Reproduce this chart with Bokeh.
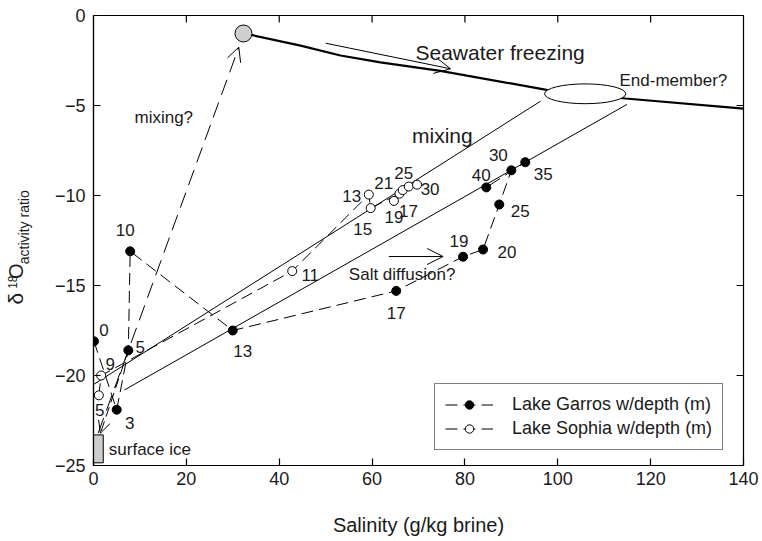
from bokeh.plotting import figure
from bokeh.layouts import row
from bokeh.models import (Range1d, Arrow, OpenHead, Label, Legend, LegendItem,
                          FixedTicker, ColumnDataSource)
from bokeh.embed import file_html
from bokeh.resources import INLINE
from bokeh.core.properties import value

FONT = "Liberation Sans"
INK = "#1a1a1a"

# Lake Garros profile: depth (m), salinity (g/kg brine), d18O
garros_depth = [0, 3, 5, 10, 13, 17, 19, 20, 25, 30, 35, 40]
garros_salinity = [0.1, 5.0, 7.5, 7.9, 30.0, 65.2, 79.6, 83.9, 87.4, 90.0, 93.0, 84.6]
garros_d18o = [-18.1, -21.9, -18.6, -13.1, -17.5, -15.3, -13.4, -13.0, -10.5, -8.6, -8.15, -9.55]

# Lake Sophia profile
sophia_depth = [5, 9, 11, 13, 15, 17, 19, 21, 25, 30]
sophia_salinity = [1.15, 1.65, 42.8, 59.3, 59.7, 65.9, 64.7, 66.6, 67.9, 69.7]
sophia_d18o = [-21.1, -20.0, -14.2, -9.95, -10.7, -9.9, -10.3, -9.7, -9.5, -9.4]

# Seawater freezing trajectory
freeze_salinity = [32.3, 34.0, 44.6, 53.2, 61.8, 74.7, 97.6, 114.6, 140.0]
freeze_d18o = [-1.0, -1.08, -1.67, -2.22, -2.6, -3.08, -4.13, -4.61, -5.17]

# seawater end-member and hypothesised brine end-member
seawater = (32.3, -1.0)
end_member = (105.9, -4.35, 17.5, 1.1)   # x, y, width, height

# mixing lines between surface ice and the brine end-member
mix_x0 = [0.0, 6.7]
mix_y0 = [-20.5, -20.8]
mix_x1 = [96.3, 114.9]
mix_y1 = [-4.76, -4.94]

# surface ice box
ice_left, ice_right, ice_bottom, ice_top = -0.5, 2.1, -24.85, -23.3

x_min, x_max = 0, 140
y_min, y_max = -25, 0
xticks = [0, 20, 40, 60, 80, 100, 120, 140]
yticks = [-25, -20, -15, -10, -5, 0]

# pixel offsets for the depth labels
garros_dx = [10, 13, 12, -5, 10, 0, -4, 24, 21, -13, 18, -5]
garros_dy = [-11, 13, -3, -21, 20, 22, -16, 2, 6, -15, 12, -12]
sophia_dx = [1, 9, 18, -17, -8, 9, 0, -19, -5, 13]
sophia_dy = [15, -12, 4, 1, 21, 17, 16, -7, -14, 4]

# layout
LEFT_W = 40           # strip holding the rotated y title
FRAME_W, FRAME_H = 650, 450
TICK = 7

p = figure(width=722, height=541, x_range=Range1d(x_min, x_max), y_range=Range1d(y_min, y_max),
           output_backend="svg", toolbar_location=None,
           min_border_left=53, min_border_right=19, min_border_top=15, min_border_bottom=76)
p.grid.visible = False
p.outline_line_color = "black"
p.outline_line_width = 1.2
p.background_fill_color = "white"
p.border_fill_color = "white"

for ax in (p.xaxis[0], p.yaxis[0]):
    ax.major_tick_in = TICK
    ax.major_tick_out = 0
    ax.minor_tick_line_color = None
    ax.axis_line_width = 1.2
    ax.major_tick_line_width = 1.2
    ax.major_label_text_font = FONT
    ax.major_label_text_font_size = "18px"
    ax.major_label_text_color = INK
p.xaxis[0].ticker = FixedTicker(ticks=xticks)
p.yaxis[0].ticker = FixedTicker(ticks=yticks)
p.xaxis[0].major_label_standoff = 6
p.yaxis[0].major_label_standoff = 8
p.xaxis[0].axis_label = "Salinity (g/kg brine)"
p.xaxis[0].axis_label_text_font = FONT
p.xaxis[0].axis_label_text_font_size = "20px"
p.xaxis[0].axis_label_text_font_style = "normal"
p.xaxis[0].axis_label_text_color = INK
p.xaxis[0].axis_label_standoff = 26

# inward tick marks along the top and right edges of the frame
tick_dy = TICK * (y_max - y_min) / FRAME_H
tick_dx = TICK * (x_max - x_min) / FRAME_W
top_x = xticks[1:-1]
right_y = yticks[1:-1]
p.segment(x0=top_x, y0=[y_max] * len(top_x), x1=top_x, y1=[y_max - tick_dy] * len(top_x),
          line_color="black", line_width=1.2)
p.segment(x0=[x_max] * len(right_y), y0=right_y, x1=[x_max - tick_dx] * len(right_y), y1=right_y,
          line_color="black", line_width=1.2)

# mixing lines
p.segment(x0=mix_x0, y0=mix_y0, x1=mix_x1, y1=mix_y1, line_color="black", line_width=1)

# seawater freezing curve, end-members and surface ice
p.line(freeze_salinity, freeze_d18o, line_color="black", line_width=2.2)
p.ellipse(x=[end_member[0]], y=[end_member[1]], width=[end_member[2]], height=[end_member[3]],
          fill_color="white", line_color="black", line_width=1)
p.scatter([seawater[0]], [seawater[1]], size=17, fill_color="#cfcfcf", line_color="black",
          line_width=1)
p.quad(left=[ice_left], right=[ice_right], bottom=[ice_bottom], top=[ice_top],
       fill_color="#cccccc", line_color="black", line_width=1)

# lake profiles
g_src = ColumnDataSource(dict(x=garros_salinity, y=garros_d18o,
                              t=[str(d) for d in garros_depth], dx=garros_dx, dy=garros_dy))
s_src = ColumnDataSource(dict(x=sophia_salinity, y=sophia_d18o,
                              t=[str(d) for d in sophia_depth], dx=sophia_dx, dy=sophia_dy))

g_line = p.line("x", "y", source=g_src, line_color="black", line_width=1, line_dash="12 6")
s_line = p.line("x", "y", source=s_src, line_color="black", line_width=1, line_dash="12 6")
g_pts = p.scatter("x", "y", source=g_src, size=9, fill_color="black", line_color="black")
s_pts = p.scatter("x", "y", source=s_src, size=9, fill_color="white", line_color="black",
                  line_width=1)

for src in (g_src, s_src):
    p.text("x", "y", text="t", source=src, x_offset="dx", y_offset="dy",
           text_font=value(FONT), text_font_size="17px", text_color=INK,
           text_align="center", text_baseline="middle")

# arrows
p.add_layout(Arrow(end=OpenHead(size=16, line_width=1), x_start=50, y_start=-1.54,
                   x_end=76.9, y_end=-2.96, line_width=1))
p.add_layout(Arrow(end=OpenHead(size=16, line_width=1), x_start=63.6, y_start=-13.39,
                   x_end=75.3, y_end=-13.39, line_width=1))
p.add_layout(Arrow(end=OpenHead(size=14, line_width=1), x_start=1.0, y_start=-23.2,
                   x_end=31.3, y_end=-1.76, line_width=1, line_dash="16 8"))
p.add_layout(Arrow(end=OpenHead(size=12, line_width=1), x_start=7.5, y_start=-18.6,
                   x_end=1.5, y_end=-23.2, line_width=1, line_dash="10 5"))

# annotations
notes = [
    ("Seawater freezing", 69.35, -2.04, "21px"),
    ("End-member?", 113.3, -3.61, "17px"),
    ("mixing", 68.6, -6.67, "21px"),
    ("mixing?", 8.83, -5.68, "17px"),
    ("Salt diffusion?", 55.0, -14.39, "17px"),
    ("surface ice", 3.3, -24.13, "17px"),
]
for txt, x, y, fs in notes:
    p.add_layout(Label(x=x, y=y, text=txt, text_font=FONT, text_font_size=fs,
                       text_color=INK, text_align="left", text_baseline="middle"))

# legend: dashed line with the marker for each lake
legend = Legend(items=[
    LegendItem(label="Lake Garros w/depth (m)", renderers=[g_line, g_pts]),
    LegendItem(label="Lake Sophia w/depth (m)", renderers=[s_line, s_pts]),
], location=(341, 15))
legend.label_text_font = FONT
legend.label_text_font_size = "18px"
legend.label_text_color = INK
legend.glyph_width = 48
legend.glyph_height = 21
legend.label_height = 21
legend.spacing = 3
legend.padding = 10
legend.margin = 0
legend.label_standoff = 19
legend.border_line_color = "black"
legend.border_line_width = 1
legend.background_fill_color = "white"
legend.background_fill_alpha = 1
p.add_layout(legend)

# rotated y title: delta-18-O with "activity ratio" subscript (centred pieces)
side = figure(width=LEFT_W, height=541, x_range=Range1d(0, LEFT_W), y_range=Range1d(491, 0),
              output_backend="svg", toolbar_location=None, x_axis_type=None, y_axis_type=None,
              min_border=0, outline_line_color=None)
side.grid.visible = False
title_parts = [
    ("δ", 15.0, 309.0, "21px"),
    ("18", 11.5, 291.0, "12px"),
    ("O", 15.0, 279.0, "20px"),
    ("activity ratio", 23.0, 231.0, "14px"),
]
for txt, x, y, fs in title_parts:
    side.text(x=[x], y=[y], text=[txt], angle=1.5707963, text_font=value(FONT),
              text_font_size=fs, text_color=INK, text_align="center", text_baseline="middle")

layout = row(side, p)
open("out.html", "w").write(file_html(layout, INLINE))
